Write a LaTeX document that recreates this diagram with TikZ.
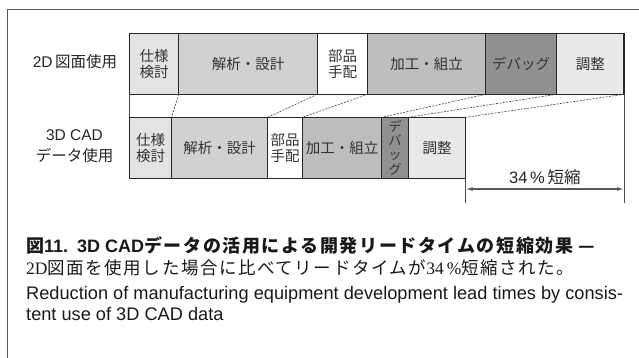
\documentclass[tikz,border=0pt]{standalone}
\usepackage{fontspec}
\setmainfont{Liberation Sans}
\newfontfamily\jp{Noto Sans CJK JP}
\newfontfamily\jptitle[LetterSpace=9]{Noto Sans CJK JP}
\newfontfamily\jpbody[LetterSpace=9]{Noto Sans CJK JP}
\newfontfamily\serifnum{Liberation Serif}
\usetikzlibrary{arrows.meta, positioning, calc}
\tikzset{
  stage/.style = {
    draw=black!85, line width=1.1pt, inner sep=0pt, outer sep=0pt,
    minimum height=61pt, align=center, text=black!80,
    font=\jp\fontsize{14.5}{15.5}\selectfont
  },
  specbox/.style = {stage, fill=black!11},
  designbox/.style = {stage, fill=black!18},
  partsbox/.style = {stage, fill=white},
  assybox/.style = {stage, fill=black!26},
  debugbox/.style = {stage, fill=black!43},
  adjustbox/.style = {stage, fill=black!9},
  rowlabel/.style = {
    align=center, text=black!85, font=\fontsize{15.5}{21.5}\selectfont
  },
  guide/.style = {black!75, line width=0.6pt, dash pattern=on 2pt off 1.3pt},
  sideline/.style = {black!70, line width=0.8pt},
  dimarrow/.style = {
    black!65, line width=1.2pt,
    {Latex[length=7pt,width=4pt]}-{Latex[length=7pt,width=4pt]}
  },
  frameline/.style = {black!65, line width=0.8pt},
  caption/.style = {anchor=base west, inner sep=0pt, text=black!90}
}
\begin{document}
\begin{tikzpicture}[x=1pt, y=-1pt]
  \useasboundingbox (0,0) rectangle (639,358);
  \draw[frameline] (639,9.3) -- (7.3,9.3) -- (7.3,358);

  % 2D row
  \node[specbox, minimum width=49.4pt, anchor=north west] (spec2d) at (129.3,33.3) {仕様\\検討};
  \node[designbox, minimum width=138.6pt, right=0pt of spec2d] (design2d) {解析・設計};
  \node[partsbox, minimum width=50.4pt, right=0pt of design2d] (parts2d) {部品\\手配};
  \node[assybox, minimum width=118pt, right=0pt of parts2d] (assy2d) {加工・組立};
  \node[debugbox, minimum width=71pt, right=0pt of assy2d] (debug2d) {デバッグ};
  \node[adjustbox, minimum width=67.3pt, right=0pt of debug2d] (adjust2d) {調整};

  % 3D CAD row
  \node[specbox, minimum width=42.4pt, anchor=north west] (spec3d) at (129.3,117.3) {仕様\\検討};
  \node[designbox, minimum width=96pt, right=0pt of spec3d] (design3d) {解析・設計};
  \node[partsbox, minimum width=34.6pt, right=0pt of design3d] (parts3d) {部品\\手配};
  \node[assybox, minimum width=79.4pt, right=0pt of parts3d] (assy3d) {加工・組立};
  \node[debugbox, minimum width=26.6pt, right=0pt of assy3d,
        font=\jp\fontsize{13}{14.2}\selectfont] (debug3d) {デ\\バ\\ッ\\グ};
  \node[adjustbox, minimum width=57.4pt, right=0pt of debug3d] (adjust3d) {調整};

  % row labels
  \node[rowlabel] (label2d) at (75,61.5) {2D\,{\jp 図面使用}};
  \node[rowlabel] (label3d) at (74.5,146) {3D CAD\\{\jp データ使用}};

  % guides between rows
  \draw[sideline] (spec2d.south west) -- (spec3d.north west);
  \draw[guide] (spec2d.south east) -- (spec3d.north east);
  \draw[guide] (design2d.south east) -- (design3d.north east);
  \draw[guide] (parts2d.south east) -- (parts3d.north east);
  \draw[guide] (assy2d.south east) -- (assy3d.north east);
  \draw[guide] (debug2d.south east) -- (debug3d.north east);
  \draw[guide] (adjust2d.south east) -- (adjust3d.north east);

  % reduction
  \coordinate (dimR) at (adjust2d.south east |- 0,203.3);
  \coordinate (dimL) at (adjust3d.south east |- 0,203.3);
  \coordinate (arrowR) at (dimR |- 0,189);
  \coordinate (arrowL) at (dimL |- 0,189);
  \draw[sideline] (adjust2d.south east) -- (dimR);
  \draw[sideline] (adjust3d.south east) -- (dimL);
  \draw[dimarrow] (arrowL) -- (arrowR);
  \node[text=black!85, font=\fontsize{16.5}{18}\selectfont] (cut) at ($(arrowL)!0.5!(arrowR)+(0,-12)$) {34\,\%\,{\jp 短縮}};

  % caption
  \node[caption, font=\bfseries\fontsize{18}{21}\selectfont] (title) at (26,252)
    {{\jptitle 図}11.\hspace{0.5em}3D CAD{\jptitle データの活用による開発リードタイムの短縮効果}\hspace{0.3em}{\jp —}};
  \node[caption, font=\fontsize{17.5}{20}\selectfont] (subtitle) at (26,274.5)
    {{\serifnum 2D}{\jpbody 図面を使用した場合に比べてリードタイムが}{\serifnum 34\,\%}{\jpbody 短縮された。}};
  \node[caption, font=\fontsize{18.2}{22}\selectfont] (english) at (26,299)
    {Reduction of manufacturing equipment development lead times by consis-};
  \node[caption, font=\fontsize{18.2}{22}\selectfont] (english2) at (26,320)
    {tent use of 3D CAD data};
\end{tikzpicture}
\end{document}
